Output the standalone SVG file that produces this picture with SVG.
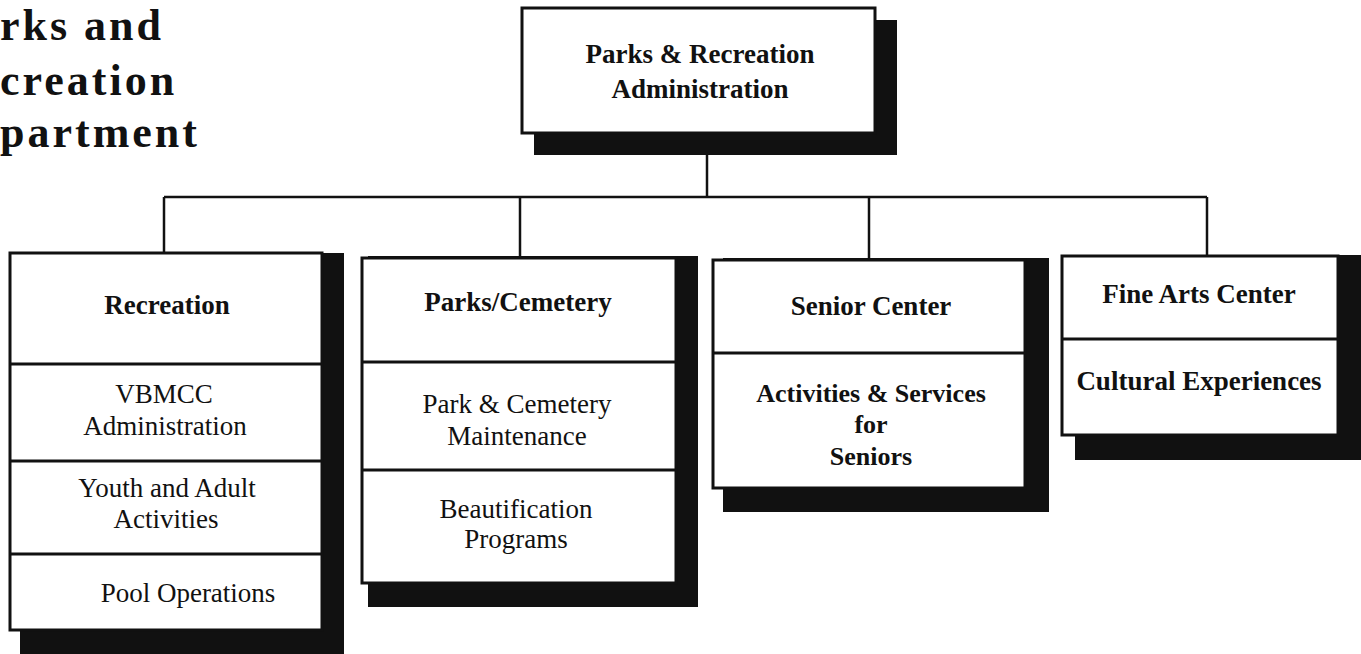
<svg xmlns="http://www.w3.org/2000/svg" width="1361" height="654" viewBox="0 0 1361 654">
<style>
.bg{fill:#fff}
.sh{fill:#111}
.box{fill:#fff;stroke:#111;stroke-width:3}
.div{stroke:#111;stroke-width:3;fill:none}
.con{stroke:#111;stroke-width:2.5;fill:none}
text{font-family:"Liberation Serif","Times New Roman",serif;fill:#111;text-anchor:middle;font-size:27px}
.b{font-weight:bold}
.s{font-size:26px}
.title{font-size:44px;font-weight:bold;text-anchor:start;letter-spacing:3px}
</style>
<rect class="bg" x="0" y="0" width="1361" height="654"/>
<g id="title">
<text class="title" x="0" y="40">rks and</text>
<text class="title" x="0" y="95">creation</text>
<text class="title" x="0" y="147">partment</text>
</g>
<g id="connectors">
<path class="con" d="M707 155 V197"/>
<path class="con" d="M164 197 H1207"/>
<path class="con" d="M164 197 V253"/>
<path class="con" d="M520 197 V258"/>
<path class="con" d="M869 197 V260"/>
<path class="con" d="M1207 197 V256"/>
</g>
<g id="admin">
<rect class="sh" x="534" y="20" width="363" height="135"/>
<rect class="box" x="522" y="8" width="353" height="125"/>
<text class="b" x="700" y="63">Parks &amp; Recreation</text>
<text class="b" x="700" y="98">Administration</text>
</g>
<g id="recreation">
<rect class="sh" x="20" y="253" width="324" height="401"/>
<rect class="box" x="10" y="253" width="312" height="377"/>
<path class="div" d="M10 364 H322 M10 461 H322 M10 554 H322"/>
<text class="b" x="167" y="314">Recreation</text>
<text x="164" y="403">VBMCC</text>
<text x="165" y="435">Administration</text>
<text x="167" y="497">Youth and Adult</text>
<text x="166" y="528">Activities</text>
<text x="188" y="602">Pool Operations</text>
</g>
<g id="parks">
<rect class="sh" x="368" y="256" width="330" height="351"/>
<rect class="box" x="362" y="258" width="314" height="325"/>
<path class="div" d="M362 362 H676 M362 470 H676"/>
<text class="b" x="518" y="311">Parks/Cemetery</text>
<text x="517" y="413">Park &amp; Cemetery</text>
<text x="517" y="445">Maintenance</text>
<text x="516" y="518">Beautification</text>
<text x="516" y="548">Programs</text>
</g>
<g id="senior">
<rect class="sh" x="723" y="258" width="326" height="254"/>
<rect class="box" x="713" y="260" width="312" height="228"/>
<path class="div" d="M713 353 H1025"/>
<text class="b" x="871" y="315">Senior Center</text>
<text class="b s" x="871" y="402">Activities &amp; Services</text>
<text class="b s" x="871" y="433">for</text>
<text class="b s" x="871" y="465">Seniors</text>
</g>
<g id="finearts">
<rect class="sh" x="1075" y="255" width="286" height="205"/>
<rect class="box" x="1062" y="256" width="276" height="179"/>
<path class="div" d="M1062 339 H1338"/>
<text class="b" x="1199" y="303">Fine Arts Center</text>
<text class="b" x="1199" y="390" font-size="25">Cultural Experiences</text>
</g>
</svg>
